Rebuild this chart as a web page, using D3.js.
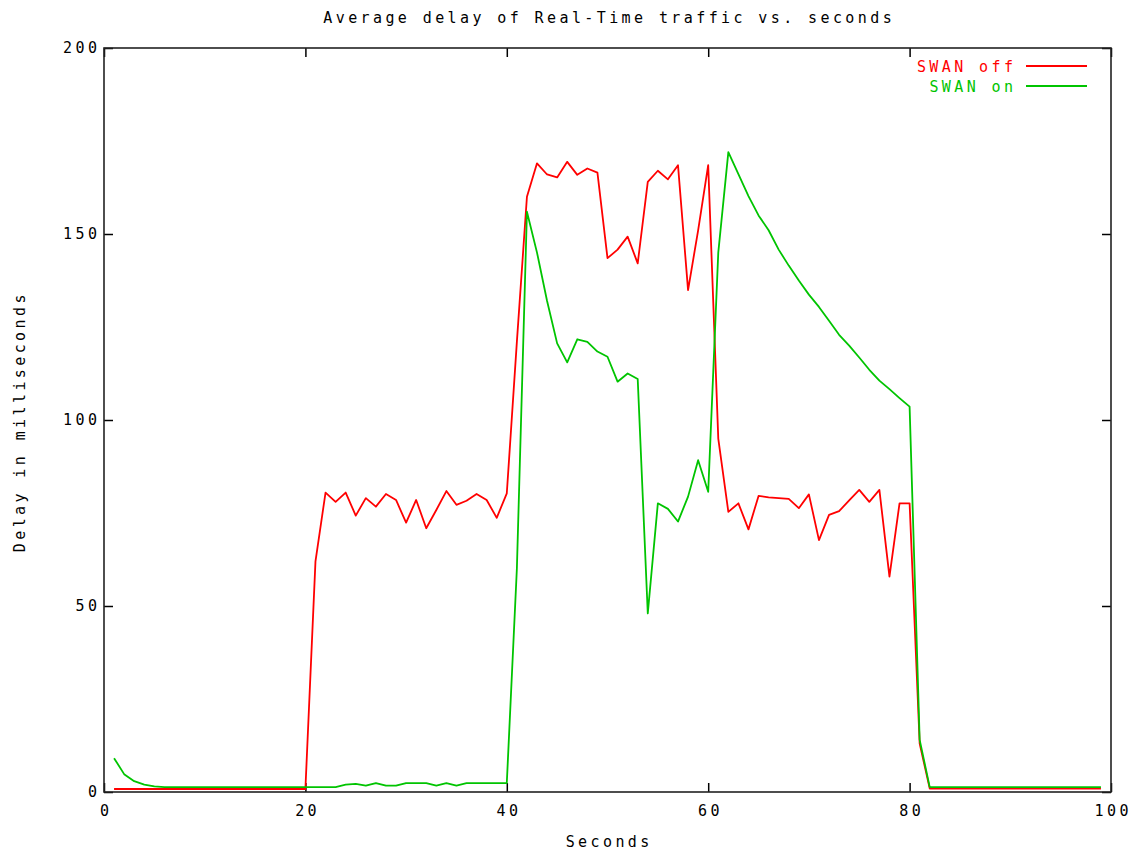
<!DOCTYPE html>
<html>
<head>
<meta charset="utf-8">
<script src="https://cdn.jsdelivr.net/npm/d3@7"></script>
<style>
  html, body { margin: 0; padding: 0; background: #fff; }
  svg text { font-family: "DejaVu Sans Mono", "Liberation Mono", monospace; font-size: 15px; letter-spacing: 3.4px; fill: #000; }
</style>
</head>
<body>
<svg id="chart" width="1139" height="851"></svg>
<script>
// ---- data ----
const seconds = [1,2,3,4,5,6,7,8,9,10,11,12,13,14,15,16,17,18,19,20,
  21,22,23,24,25,26,27,28,29,30,31,32,33,34,35,36,37,38,39,40,
  41,42,43,44,45,46,47,48,49,50,51,52,53,54,55,56,57,58,59,60,
  61,62,63,64,65,66,67,68,69,70,71,72,73,74,75,76,77,78,79,80,
  81,82,83,84,85,86,87,88,89,90,91,92,93,94,95,96,97,98,99];

const swanOff = [0.8,0.8,0.8,0.8,0.8,0.8,0.8,0.8,0.8,0.8,0.8,0.8,0.8,0.8,0.8,0.8,0.8,0.8,0.8,0.8,
  62,80.5,78,80.5,74.3,79,76.7,80.1,78.5,72.4,78.5,70.9,75.8,80.9,77.2,78.3,80.1,78.5,73.7,80.3,
  121,160,169,166,165.2,169.4,165.9,167.6,166.5,143.5,145.8,149.3,142.1,164,167,164.7,168.5,134.9,151,168.5,
  95,75.3,77.6,70.6,79.6,79.2,79,78.8,76.3,80,67.7,74.5,75.5,78.4,81.2,78,81.2,57.9,77.6,77.6,
  13,0.9,0.9,0.9,0.9,0.9,0.9,0.9,0.9,0.9,0.9,0.9,0.9,0.9,0.9,0.9,0.9,0.9,0.9];

const swanOn = [9.1,4.8,2.9,2.0,1.5,1.3,1.3,1.3,1.3,1.3,1.3,1.3,1.3,1.3,1.3,1.3,1.3,1.3,1.3,1.3,
  1.3,1.3,1.3,2.0,2.2,1.7,2.4,1.7,1.7,2.4,2.4,2.4,1.7,2.4,1.7,2.4,2.4,2.4,2.4,2.4,
  60,156,145,132,120.6,115.5,121.7,121,118.4,117,110.3,112.5,111,48,77.6,76.1,72.7,79.4,89.2,80.7,
  145,172,166.1,160.2,155,151,145.8,141.5,137.5,133.7,130.4,126.7,122.9,120,116.8,113.5,110.6,108.3,105.9,103.6,
  14,1.3,1.3,1.3,1.3,1.3,1.3,1.3,1.3,1.3,1.3,1.3,1.3,1.3,1.3,1.3,1.3,1.3,1.3];

const xTicks = [0,20,40,60,80,100];
const yTicks = [0,50,100,150,200];
const seriesNames = ["SWAN off", "SWAN on"];
const seriesColors = ["#ff0000", "#00c400"];
const titleText = "Average delay of Real-Time traffic vs. seconds";
const xLabel = "Seconds";
const yLabel = "Delay in milliseconds";

// ---- layout ----
const L = 104, R = 1111, T = 48, B = 792;
const LS = 3.4; // letter spacing compensation
const svg = d3.select("#chart");
const x = d3.scaleLinear().domain([0, 100]).range([L, R]);
const y = d3.scaleLinear().domain([0, 200]).range([B, T]);

// axes (ticks inward, mirrored)
const axisStyle = g => {
  g.select(".domain").remove();
  g.selectAll(".tick line").attr("stroke", "#000").attr("stroke-width", 1.5);
  g.selectAll(".tick text").attr("font-family", null).attr("font-size", null);
};
svg.append("g").attr("transform", `translate(0,${B})`)
  .call(d3.axisBottom(x).tickValues(xTicks).tickSizeInner(-9).tickSizeOuter(0).tickPadding(13))
  .call(axisStyle)
  .selectAll(".tick text").attr("dx", LS / 2);
svg.append("g").attr("transform", `translate(0,${T})`)
  .call(d3.axisTop(x).tickValues(xTicks).tickSizeInner(-9).tickSizeOuter(0).tickFormat(""))
  .call(axisStyle);
svg.append("g").attr("transform", `translate(${L},0)`)
  .call(d3.axisLeft(y).tickValues(yTicks).tickSizeInner(-9).tickSizeOuter(0).tickPadding(7))
  .call(axisStyle)
  .selectAll(".tick text").attr("dx", LS);
svg.append("g").attr("transform", `translate(${R},0)`)
  .call(d3.axisRight(y).tickValues(yTicks).tickSizeInner(-9).tickSizeOuter(0).tickFormat(""))
  .call(axisStyle);

// border
svg.append("rect").attr("x", L).attr("y", T).attr("width", R - L).attr("height", B - T)
  .attr("fill", "none").attr("stroke", "#222").attr("stroke-width", 1.6);

// lines
const allSeries = [swanOff, swanOn];
const line = d3.line().x(d => x(d[0])).y(d => y(d[1]));
allSeries.forEach((vals, i) => {
  const pts = seconds.map((s, j) => [s, vals[j]]);
  svg.append("path").datum(pts).attr("d", line)
    .attr("fill", "none").attr("stroke", seriesColors[i]).attr("stroke-width", 1.8)
    .attr("stroke-linejoin", "round");
});

// legend
seriesNames.forEach((name, i) => {
  const ly = 66 + i * 20;
  svg.append("text").attr("x", 1013 + LS).attr("y", ly + 5.5).attr("text-anchor", "end")
    .style("fill", seriesColors[i]).text(name);
  svg.append("line").attr("x1", 1026).attr("x2", 1087).attr("y1", ly).attr("y2", ly)
    .attr("stroke", seriesColors[i]).attr("stroke-width", 1.8);
});

// title and axis labels
svg.append("text").attr("x", (L + R) / 2 + LS / 2).attr("y", 23).attr("text-anchor", "middle").text(titleText);
svg.append("text").attr("x", (L + R) / 2 + LS / 2).attr("y", 847).attr("text-anchor", "middle").text(xLabel);
svg.append("text").attr("transform", `translate(25,${(T + B) / 2 + LS / 2}) rotate(-90)`)
  .attr("text-anchor", "middle").text(yLabel);
</script>
</body>
</html>
